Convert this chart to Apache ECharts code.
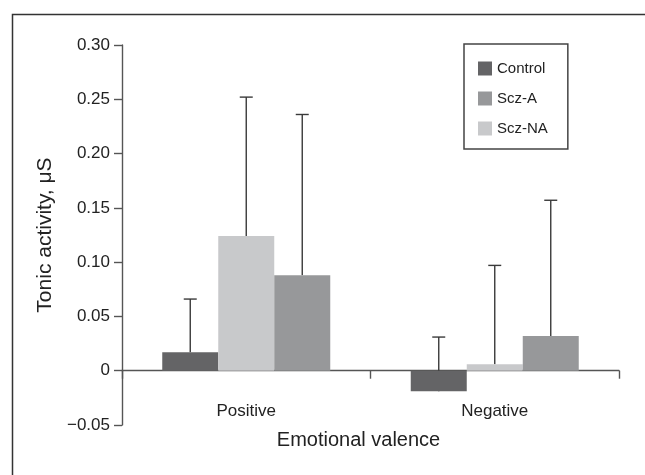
<!DOCTYPE html>
<html>
<head>
<meta charset="utf-8">
<script src="https://cdn.jsdelivr.net/npm/echarts@6/dist/echarts.min.js"></script>
<style>html,body{margin:0;padding:0;background:#fff}#c{width:645px;height:475px}</style>
</head>
<body>
<div id="c"></div>
<script>
var categories = ['Positive', 'Negative'];
var seriesNames = ['Control', 'Scz-NA', 'Scz-A'];
var legendOrder = ['Control', 'Scz-A', 'Scz-NA'];
var controlMean = [0.017, -0.019];
var controlSD = [0.049, 0.050];
var sczNAMean = [0.124, 0.006];
var sczNASD = [0.128, 0.091];
var sczAMean = [0.088, 0.032];
var sczASD = [0.148, 0.125];
var yTickValues = [-0.05, 0, 0.05, 0.10, 0.15, 0.20, 0.25, 0.30];
var yTickLabels = ['\u22120.05', '0', '0.05', '0.10', '0.15', '0.20', '0.25', '0.30'];

var means = [controlMean, sczNAMean, sczAMean];
var sds = [controlSD, sczNASD, sczASD];
var colors = ['#646466', '#c8c9cb', '#97989a'];
var BAR_W = 56;
var FONT = 'Liberation Sans, Arial, Helvetica, sans-serif';

var chart = echarts.init(document.getElementById('c'), null, {renderer: 'canvas'});

var series = [];
seriesNames.forEach(function (name, si) {
  series.push({
    name: name,
    type: 'bar',
    data: means[si],
    barWidth: BAR_W,
    barGap: '0%',
    itemStyle: {color: colors[si]},
    z: 3
  });
});
seriesNames.forEach(function (name, si) {
  var errData = categories.map(function (c, ci) { return [ci, means[si][ci], means[si][ci] + sds[si][ci]]; });
  series.push({
    name: name + ' SD',
    type: 'custom',
    z: 1,
    silent: true,
    renderItem: function (params, api) {
      var ci = api.value(0);
      var lo = api.coord([ci, api.value(1)]);
      var hi = api.coord([ci, api.value(2)]);
      var x = lo[0] + (si - 1) * BAR_W;
      var style = {stroke: '#3a3a3a', lineWidth: 1.4};
      return {
        type: 'group',
        children: [
          {type: 'line', shape: {x1: x, y1: lo[1], x2: x, y2: hi[1]}, style: style},
          {type: 'line', shape: {x1: x - 6.5, y1: hi[1], x2: x + 6.5, y2: hi[1]}, style: style}
        ]
      };
    },
    encode: {x: 0, y: [1, 2]},
    data: errData
  });
});

chart.setOption({
  animation: false,
  backgroundColor: '#fff',
  textStyle: {fontFamily: FONT},
  graphic: [{
    type: 'rect', left: 10, top: 12,
    shape: {x: 0, y: 0, width: 700, height: 600},
    style: {fill: 'none', stroke: '#333', lineWidth: 1.5},
    z: 0
  }],
  grid: {left: 122, right: 26, top: 45, bottom: 50, containLabel: false, outerBoundsMode: 'none'},
  legend: {
    data: legendOrder,
    orient: 'vertical',
    left: 464, top: 44,
    padding: [17, 20, 13, 14],
    itemWidth: 14, itemHeight: 14, itemGap: 15,
    borderColor: '#444', borderWidth: 1.5,
    icon: 'rect',
    textStyle: {fontSize: 15, color: '#222', fontFamily: FONT}
  },
  xAxis: {
    type: 'category',
    data: categories,
    name: 'Emotional valence',
    nameLocation: 'middle',
    nameGap: 5,
    nameTextStyle: {fontSize: 20, color: '#222', padding: [0, 24, 0, 0], fontFamily: FONT},
    axisLine: {onZero: true, lineStyle: {color: '#555', width: 1.4}},
    axisTick: {show: true, length: 8, lineStyle: {color: '#555', width: 1.4}},
    axisLabel: {fontSize: 17, color: '#222', margin: -22, fontFamily: FONT}
  },
  yAxis: {
    type: 'value',
    min: -0.05, max: 0.30, interval: 0.05,
    name: 'Tonic activity, \u03bcS',
    nameLocation: 'middle',
    nameGap: 60,
    nameTextStyle: {fontSize: 21, color: '#222', fontFamily: FONT},
    splitLine: {show: false},
    axisLine: {show: true, lineStyle: {color: '#555', width: 1.4}},
    axisTick: {show: true, length: 8, lineStyle: {color: '#555', width: 1.4}},
    axisLabel: {
      fontSize: 17, color: '#222', margin: 12, fontFamily: FONT,
      formatter: function (v) {
        for (var i = 0; i < yTickValues.length; i++) {
          if (Math.abs(yTickValues[i] - v) < 1e-9) return yTickLabels[i];
        }
        return '';
      }
    }
  },
  series: series
});
</script>
</body>
</html>
